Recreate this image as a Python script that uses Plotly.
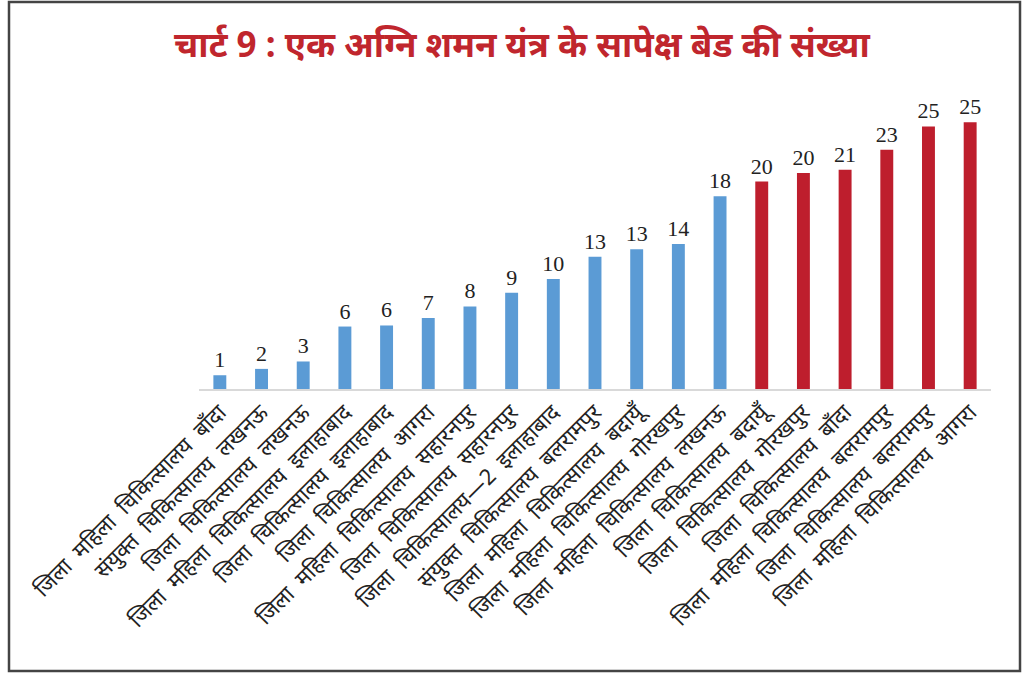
import plotly.graph_objects as go

categories = [
    "जिला महिला चिकित्सालय बाँदा",
    "संयुक्त चिकित्सालय लखनऊ",
    "जिला चिकित्सालय लखनऊ",
    "जिला महिला चिकित्सालय इलाहाबाद",
    "जिला चिकित्सालय इलाहाबाद",
    "जिला चिकित्सालय आगरा",
    "जिला महिला चिकित्सालय सहारनपुर",
    "जिला चिकित्सालय सहारनपुर",
    "जिला चिकित्सालय—2 इलाहाबाद",
    "संयुक्त चिकित्सालय बलरामपुर",
    "जिला महिला चिकित्सालय बदायूँ",
    "जिला महिला चिकित्सालय गोरखपुर",
    "जिला महिला चिकित्सालय लखनऊ",
    "जिला चिकित्सालय बदायूँ",
    "जिला चिकित्सालय गोरखपुर",
    "जिला चिकित्सालय बाँदा",
    "जिला महिला चिकित्सालय बलरामपुर",
    "जिला चिकित्सालय बलरामपुर",
    "जिला महिला चिकित्सालय आगरा",
]
values = [1.3, 1.9, 2.6, 5.9, 6.0, 6.7, 7.8, 9.1, 10.4, 12.5, 13.2, 13.7,
          18.2, 19.6, 20.4, 20.7, 22.6, 24.8, 25.2]
value_labels = ["1", "2", "3", "6", "6", "7", "8", "9", "10", "13", "13", "14",
                "18", "20", "20", "21", "23", "25", "25"]
groups = ["low"] * 13 + ["high"] * 6

BLUE = "#5B9BD5"
RED = "#BE1E2D"
colors = [BLUE if g == "low" else RED for g in groups]

# wider word gaps, as in the reference typesetting
tick_text = [c.replace(" ", "\u00a0 ") for c in categories]

W, H = 1024, 674
L, R, T, B = 199, 33, 82, 285
pw, ph = W - L - R, H - T - B

fig = go.Figure(
    go.Bar(
        x=categories,
        y=values,
        marker=dict(color=colors, line=dict(width=0)),
        text=value_labels,
        textposition="outside",
        constraintext="none",
        cliponaxis=False,
        textfont=dict(family="Liberation Serif", size=22, color="#222222"),
        hoverinfo="skip",
    )
)

fig.update_layout(
    width=W,
    height=H,
    margin=dict(l=L, r=R, t=T, b=B),
    paper_bgcolor="white",
    plot_bgcolor="white",
    bargap=0.69,
    showlegend=False,
    title=dict(
        text="चार्ट 9 : एक अग्नि शमन यंत्र के सापेक्ष बेड की संख्या",
        x=522 / W,
        xanchor="center",
        y=1 - 45 / H,
        yanchor="middle",
        font=dict(family="Noto Sans", size=35, color="#C0262D", weight="bold"),
    ),
    xaxis=dict(
        type="category",
        tickangle=-45,
        tickmode="array",
        tickvals=categories,
        ticktext=tick_text,
        tickfont=dict(family="Noto Sans", size=22, color="#222222"),
        showline=True,
        linecolor="#D9D9D9",
        linewidth=1.5,
        ticks="",
        showgrid=False,
        range=[-0.5, 18.5],
    ),
    yaxis=dict(
        range=[0, 29],
        visible=False,
        showgrid=False,
        zeroline=False,
    ),
    shapes=[
        dict(
            type="rect",
            xref="paper",
            yref="paper",
            x0=(9 - L) / pw,
            x1=(1020 - L) / pw,
            y0=(H - 671 - B) / ph,
            y1=(H - 2 - B) / ph,
            line=dict(color="#444444", width=2.5),
            fillcolor="rgba(0,0,0,0)",
            layer="below",
        )
    ],
)

fig.write_html("out.html")
